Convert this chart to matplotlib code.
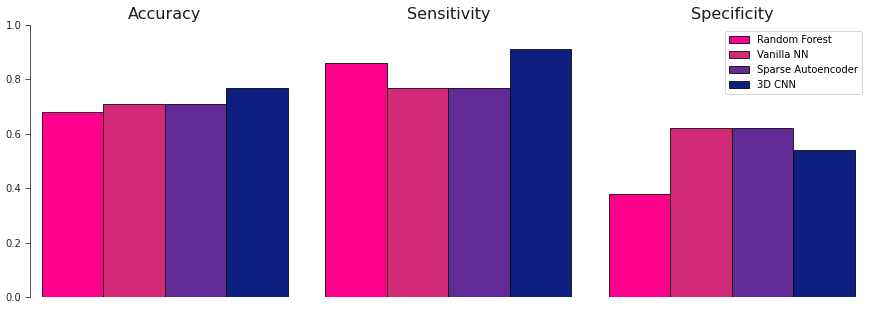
import numpy as np
import matplotlib.pyplot as plt

# metrics per model
metrics = ['Accuracy', 'Sensitivity', 'Specificity']
models = ['Random Forest', 'Vanilla NN', 'Sparse Autoencoder', '3D CNN']
random_forest = [0.68, 0.86, 0.38]
vanilla_nn = [0.71, 0.77, 0.62]
sparse_ae = [0.71, 0.77, 0.62]
cnn_3d = [0.77, 0.91, 0.54]
colors = ['#ff008c', '#d32a77', '#632a97', '#0d1f80']

values = [random_forest, vanilla_nn, sparse_ae, cnn_3d]

fig = plt.figure(figsize=(874 / 72, 310 / 72), dpi=72)
ax = fig.add_axes([30 / 874, 13 / 310, 836 / 874, 272 / 310])

x = np.arange(len(metrics))
w = 0.217
for i, (vals, name) in enumerate(zip(values, models)):
    ax.bar(x + (i - 1.5) * w, vals, w, color=colors[i], edgecolor='black',
           linewidth=0.8, label=name)

for xi, m in zip(x, metrics):
    ax.text(xi, 1.012, m, ha='center', va='bottom', fontsize=16, color='#1a1a1a')

ax.set_xlim(-0.476, 2.473)
ax.set_ylim(0, 1.0)
ax.set_xticks([])
ax.set_yticks([0, 0.2, 0.4, 0.6, 0.8, 1.0])
ax.tick_params(axis='y', labelsize=10, length=5, colors='#262626')
for s in ['top', 'right', 'bottom']:
    ax.spines[s].set_visible(False)
ax.spines['left'].set_color('#262626')

ax.legend(loc='upper right', bbox_to_anchor=(1.001, 0.998), fontsize=10,
          edgecolor='#cccccc', handlelength=2.0, borderpad=0.4, labelspacing=0.5)

fig.savefig('out.png', dpi=72)
